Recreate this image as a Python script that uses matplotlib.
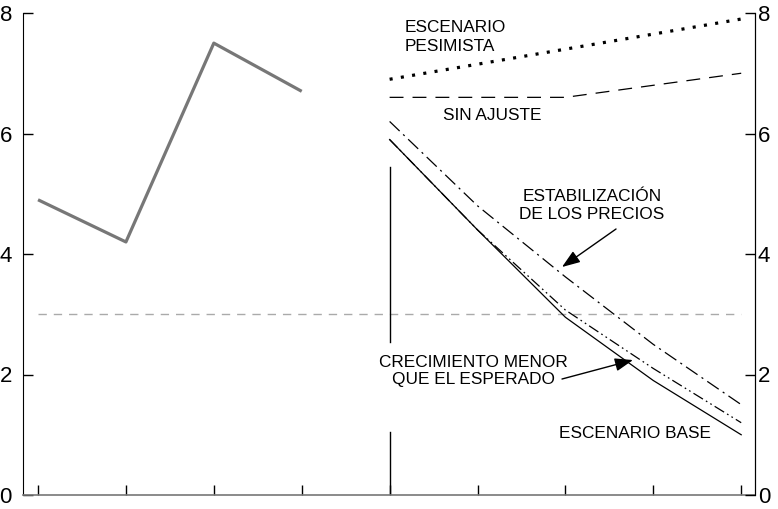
import matplotlib
matplotlib.use("Agg")
import matplotlib.pyplot as plt

plt.rcParams['font.family'] = ['Liberation Sans', 'DejaVu Sans']
plt.rcParams['lines.scale_dashes'] = False

# Data
hist_x = [0, 1, 2, 3]
hist_y = [4.9, 4.2, 7.5, 6.7]
proj_x = [4, 5, 6, 7, 8]
pesimista = [6.9, 7.15, 7.4, 7.65, 7.9]
sin_ajuste = [6.6, 6.6, 6.6, 6.8, 7.0]
estabilizacion = [6.2, 4.8, 3.62, 2.5, 1.5]
crecimiento = [5.9, 4.4, 3.07, 2.1, 1.2]
base = [5.9, 4.4, 2.95, 1.9, 1.0]
ref_level = 3.0
x_ticks = [0, 1, 2, 3, 4, 5, 6, 7, 8]
y_ticks = [0, 2, 4, 6, 8]

W, H = 778, 509
fig = plt.figure(figsize=(W / 100, H / 100), dpi=100)
ax = fig.add_axes([23 / W, 14 / H, (755 - 23) / W, (495 - 13) / H])
ax.set_xlim(-0.171, 8.157)
ax.set_ylim(0, 8)

# reference line
ax.plot([x_ticks[0], x_ticks[-1]], [ref_level, ref_level], color='#aaaaaa', lw=1.0,
        linestyle=(0, (6, 5)), zorder=1)

# historical
ax.plot(hist_x, hist_y, color='#777777', lw=2.3, solid_capstyle='butt', zorder=3)

# divider at start of projections
ax.plot([4, 4], [0, 1.05], color='black', lw=1.0, zorder=2)
ax.plot([4, 4], [2.54, 5.44], color='black', lw=1.0, zorder=2)

# scenarios
ax.plot(proj_x, pesimista, color='black', lw=2.3, linestyle=(0, (2.2, 6.0)), zorder=3)
ax.plot(proj_x, sin_ajuste, color='black', lw=0.9, linestyle=(0, (10, 6.5)), zorder=3)
ax.plot(proj_x, estabilizacion, color='black', lw=0.9, linestyle=(0, (10, 3.5, 1.5, 3.5)), zorder=3)
ax.plot(proj_x, crecimiento, color='black', lw=0.9,
        linestyle=(0, (8, 2.5, 1.2, 2.5, 1.2, 2.5)), zorder=3)
ax.plot(proj_x, base, color='black', lw=0.9, zorder=3)

fs = 12.4
ax.text(4.175, 7.60, "ESCENARIO\nPESIMISTA", ha='left', va='center', fontsize=fs, linespacing=1.27)
ax.text(5.165, 6.307, "SIN AJUSTE", ha='center', va='center', fontsize=fs)
ax.text(6.303, 4.805, "ESTABILIZACIÓN\nDE LOS PRECIOS", ha='center', va='center', fontsize=fs,
        linespacing=1.2)
ax.text(4.949, 2.066, "CRECIMIENTO MENOR\nQUE EL ESPERADO", ha='center', va='center', fontsize=fs,
        linespacing=1.17)
ax.text(6.797, 1.029, "ESCENARIO BASE", ha='center', va='center', fontsize=fs)

arrow = dict(arrowstyle='-|>,head_length=0.55,head_width=0.2', mutation_scale=20,
             color='black', lw=1.0, shrinkA=0, shrinkB=0)
ax.annotate("", xy=(5.961, 3.784), xytext=(6.576, 4.415), arrowprops=arrow)
ax.annotate("", xy=(6.769, 2.24), xytext=(5.961, 1.925), arrowprops=arrow)

# spines and ticks
ax.spines['top'].set_visible(False)
ax.spines['bottom'].set_color('#777777')
ax.spines['bottom'].set_linewidth(1.2)
ax.spines['left'].set_color('black')
ax.spines['right'].set_color('black')
ax.set_xticks(x_ticks)
ax.set_xticklabels([])
ax.tick_params(axis='x', direction='in', length=7, width=1, color='black')
ax.set_yticks(y_ticks)
ax.set_yticklabels([str(v) for v in y_ticks], fontsize=16)
ax.tick_params(axis='y', direction='in', length=7.2, width=1, pad=8, left=True, right=False)

ax2 = ax.twinx()
ax2.set_ylim(0, 8)
ax2.set_yticks(y_ticks)
ax2.set_yticklabels([str(v) for v in y_ticks], fontsize=16)
ax2.tick_params(axis='y', direction='in', length=7.2, width=1, pad=2)
for s in ['top', 'left', 'bottom']:
    ax2.spines[s].set_visible(False)
ax2.spines['right'].set_color('black')

fig.savefig("out.png", dpi=100)
